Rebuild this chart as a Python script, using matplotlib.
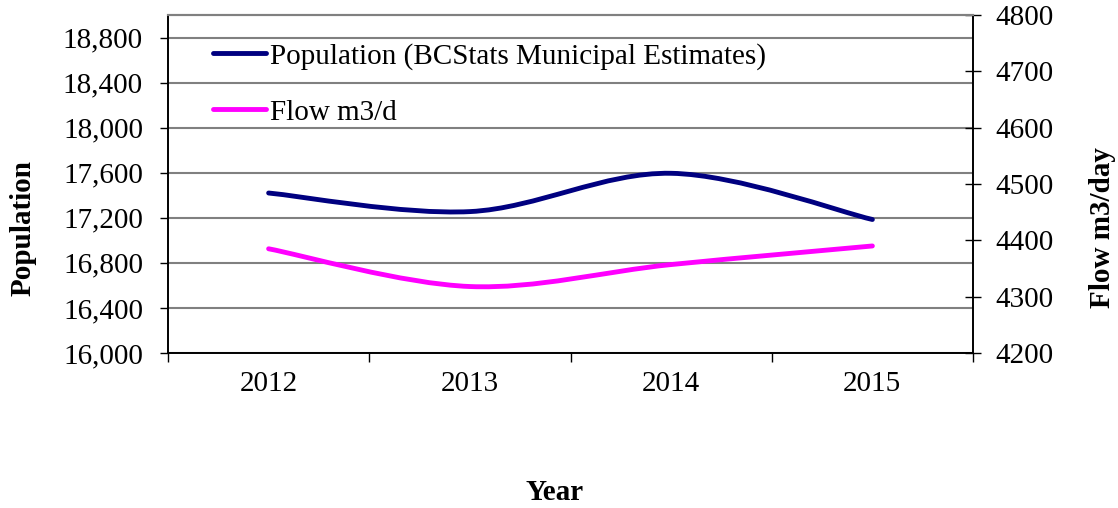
import matplotlib
matplotlib.use("Agg")
import matplotlib.pyplot as plt
from matplotlib.path import Path
from matplotlib.patches import PathPatch
from matplotlib.lines import Line2D
import numpy as np

years = ["2012", "2013", "2014", "2015"]
population = [17420, 17255, 17595, 17185]
flow = [4385, 4318, 4357, 4390]
pop_label = "Population (BCStats Municipal Estimates)"
flow_label = "Flow m3/d"
left_ticks = [16000, 16400, 16800, 17200, 17600, 18000, 18400, 18800]
right_ticks = [4200, 4300, 4400, 4500, 4600, 4700, 4800]

plt.rcParams['font.family'] = ['Liberation Serif', 'DejaVu Serif']
FS = 21

fig = plt.figure(figsize=(11.18, 5.08), dpi=100)
ax = fig.add_axes([168/1118, 1-353/508, (973-168)/1118, (353-15)/508])
ax2 = ax.twinx()


def smooth_path(xs, ys):
    pts = np.column_stack([xs, ys]).astype(float)
    n = len(pts)
    verts = [pts[0]]
    codes = [Path.MOVETO]
    for i in range(n - 1):
        p0 = pts[i - 1] if i > 0 else pts[i]
        p1 = pts[i]
        p2 = pts[i + 1]
        p3 = pts[i + 2] if i + 2 < n else pts[i + 1]
        c1 = p1 + (p2 - p0) / 6.0
        c2 = p2 - (p3 - p1) / 6.0
        verts += [c1, c2, p2]
        codes += [Path.CURVE4] * 3
    return Path(verts, codes)


x = np.arange(len(years))
pop_color = "#000080"
flow_color = "#FF00FF"
LW = 3.5
ax.add_patch(PathPatch(smooth_path(x, population), facecolor="none",
                       edgecolor=pop_color, lw=LW, capstyle="round", zorder=3))
ax2.add_patch(PathPatch(smooth_path(x, flow), facecolor="none",
                        edgecolor=flow_color, lw=LW, capstyle="round", zorder=3))

ax.set_xlim(-0.5, len(years) - 0.5)
ax.set_ylim(16000, 19000)
ax2.set_ylim(4200, 4800)

ax.set_yticks(left_ticks)
ax.set_yticklabels([f"{v:,}" for v in left_ticks], fontsize=FS)
ax2.set_yticks(right_ticks)
ax2.set_yticklabels([str(v) for v in right_ticks], fontsize=FS)

ax.set_xticks(x)
ax.set_xticklabels(years, fontsize=FS)
ax.set_xticks(np.arange(-0.5, len(years), 1.0), minor=True)
ax.tick_params(axis='x', which='major', length=0, pad=13)
ax.tick_params(axis='x', which='minor', length=6.5, width=1, direction='out', color='black')
ax.tick_params(axis='y', length=6, width=1, direction='out', pad=12)
ax2.tick_params(axis='y', length=12, width=1, direction='inout', pad=10)

ax.yaxis.grid(True, color='#808080', lw=1.5)
ax.set_axisbelow(True)

for a in (ax, ax2):
    a.spines['top'].set_color('#808080')
    a.spines['top'].set_linewidth(1.5)
    a.spines['left'].set_linewidth(1.2)
    a.spines['bottom'].set_linewidth(1.2)
    a.spines['right'].set_linewidth(1.2)

handles = [Line2D([], [], color=pop_color, lw=LW, solid_capstyle='round'),
           Line2D([], [], color=flow_color, lw=LW, solid_capstyle='round')]
ax2.legend(handles, [pop_label, flow_label], loc='upper left',
           bbox_to_anchor=((213-168)/805, 1-(43-15)/338), borderaxespad=0,
           borderpad=0, frameon=False, fontsize=FS, handlelength=1.8,
           handletextpad=0.15, labelspacing=1.0)

fig.text(23/1118, 1-228/508, "Population", rotation=90, fontsize=FS,
         fontweight='bold', ha='center', va='center')
fig.text(1102/1118, 1-228/508, "Flow m3/day", rotation=90, fontsize=FS,
         fontweight='bold', ha='center', va='center')
fig.text(555/1118, 1-492/508, "Year", fontsize=FS, fontweight='bold',
         ha='center', va='center')

fig.savefig("out.png", dpi=100)
